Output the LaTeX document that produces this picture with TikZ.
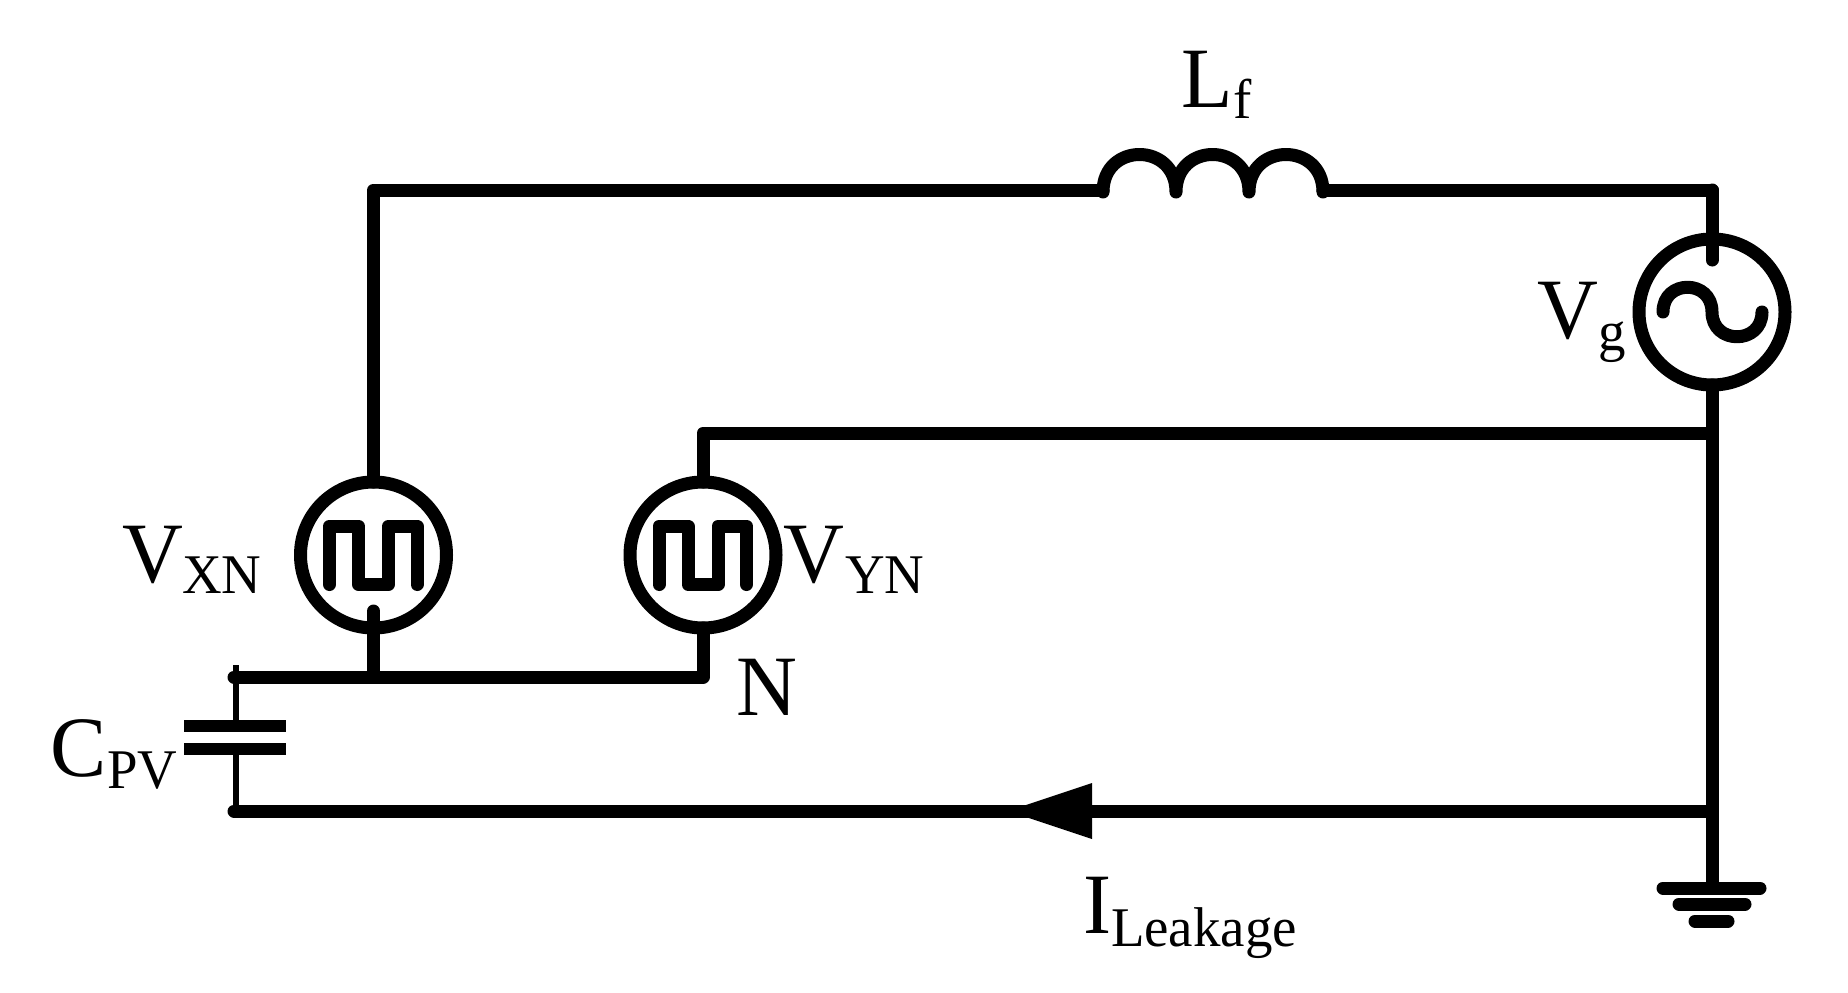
\documentclass[tikz,border=0pt]{standalone}
\usepackage{fontspec}
\setmainfont{Liberation Serif}[FakeStretch=0.98]
\newcommand{\bigf}{\fontsize{86}{86}\selectfont}
\newcommand{\subf}{\fontsize{56}{56}\selectfont}
\tikzset{
  wire/.style={line width=13pt,line join=round,line cap=round},
  heavy/.style={line width=13pt,line join=round,line cap=round},
  thinwire/.style={line width=5.5pt},
  source/.style={circle,draw,line width=13pt,minimum size=146pt,inner sep=0pt,outer sep=0pt},
  plate/.style={line width=12.5pt},
  lbl/.style={anchor=base west,inner sep=0pt,outer sep=0pt,font=\bigf},
  sublbl/.style={anchor=base west,inner sep=0pt,outer sep=0pt,font=\subf}
}
\begin{document}
\begin{tikzpicture}[x=1pt,y=-1pt]
\useasboundingbox (0,0) rectangle (1848,993);
% sources
\node[source] (vx) at (373.5,555) {};
\node[source] (vy) at (703,555) {};
\node[source] (vg) at (1712,312) {};
% named points
\coordinate (Ls) at (1103,192);
\coordinate (L1) at (1176,192);
\coordinate (L2) at (1249,192);
\coordinate (Le) at (1323,192);
\coordinate (topL) at (373.5,190);
\coordinate (topR) at (1712,190);
\coordinate (midR) at (1712,433);
\coordinate (busL) at (234,677);
\coordinate (busJ) at (373.5,677);
\coordinate (busR) at (703,677);
\coordinate (botL) at (234,811);
\coordinate (botR) at (1712,811);
\coordinate (gnd) at (1712,888);
\coordinate (capTop) at (236,665);
\coordinate (capA) at (236,726);
\coordinate (capB) at (236,749);
\coordinate (capBot) at (236,811);
% wires
\draw[wire] (vx.north) -- (topL) -- (1103,190);
\draw[wire] (Ls) .. controls (1103,142) and (1176,142) .. (L1)
            .. controls (1176,142) and (1249,142) .. (L2)
            .. controls (1249,142) and (1323,142) .. (Le);
\draw[wire] (1323,190) -- (topR) -- (vg.north);
\draw[wire] (topR) -- (1712,260);
\draw[wire] (vy.north) -- (703,433) -- (midR);
\draw[wire] (vg.south) -- (gnd);
\draw[wire] (vx.south) -- (busJ);
\draw[wire] (busJ) -- (373.5,611);
\draw[wire] (busL) -- (busR) -- (vy.south);
\draw[wire] (botL) -- (botR);
% capacitor
\draw[thinwire] (capTop) -- (capA);
\draw[thinwire] (capB) -- (capBot);
\draw[plate] (184,726) -- (286,726);
\draw[plate] (184,749) -- (286,749);
% square waves
\draw[heavy] (329.5,584.5) -- (329.5,526) -- (358.5,526) -- (358.5,584.5) -- (388.5,584.5) -- (388.5,526) -- (417,526) -- (417,584.5);
\draw[heavy] (659,584.5) -- (659,526) -- (688,526) -- (688,584.5) -- (718,584.5) -- (718,526) -- (746.5,526) -- (746.5,584.5);
% sine
\draw[heavy] (1663,312) .. controls (1663,279) and (1712,279) .. (1712,312)
   .. controls (1712,345) and (1762,345) .. (1762,312);
% arrowhead
\fill (1008,811) -- (1092,783) -- (1092,839) -- cycle;
% ground
\draw[wire] (1663,888) -- (1760,888);
\draw[wire] (1679,904) -- (1745,904);
\draw[wire] (1695,921) -- (1728,921);
% labels
\node[lbl] (lL) at (1181,107) {L};
\node[sublbl] (lLs) at (1233,118) {f};
\node[lbl] (lV) at (1537,338) {V};
\node[sublbl] (lVs) at (1598,350) {g};
\node[lbl] (lX) at (122,582) {V};
\node[sublbl] (lXs) at (182,593) {XN};
\node[lbl] (lY) at (783,582) {V};
\node[sublbl] (lYs) at (845,593) {YN};
\node[lbl] (lN) at (736,715) {N};
\node[lbl] (lC) at (50,776) {C};
\node[sublbl] (lCs) at (107,788) {PV};
\node[lbl] (lI) at (1083,933) {I};
\node[sublbl] (lIs) at (1111,946) {Leakage};
\end{tikzpicture}
\end{document}
